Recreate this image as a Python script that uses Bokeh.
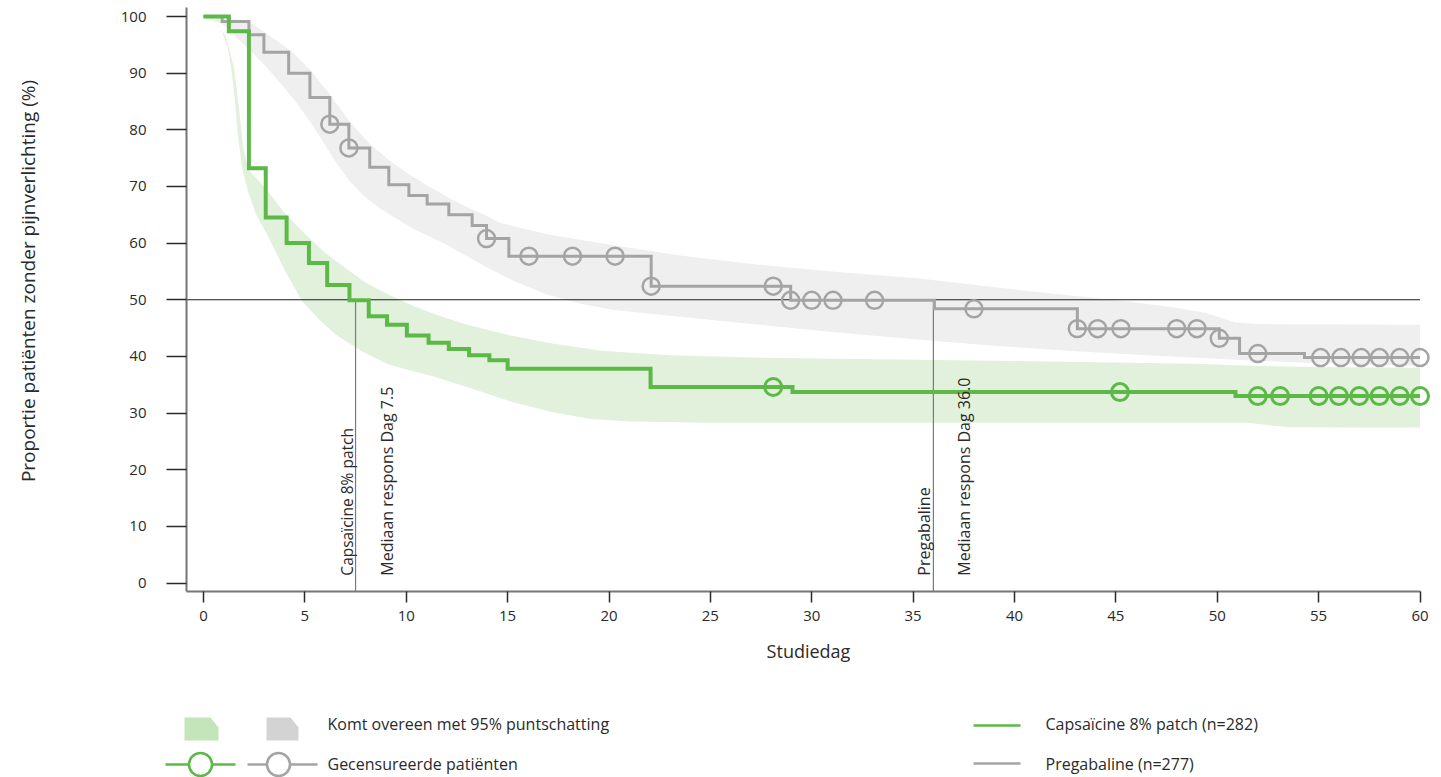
import numpy as np
from bokeh.plotting import figure
from bokeh.models import Range1d, FixedTicker
from bokeh.layouts import row
from bokeh.embed import file_html
from bokeh.resources import INLINE
from bokeh.core.properties import value

FONT = "Open Sans"
INK = "#2a2a2a"
GREEN = "#5cb947"
GRAY = "#a4a4a4"
GREEN_BAND = "#e1f1dc"
GRAY_BAND = "#efefef"
GREEN_SWATCH = "#c4e5b9"
GRAY_SWATCH = "#d3d3d3"

# ---------------- data ----------------
# Kaplan-Meier estimate, capsaicin 8% patch (event day, % without pain relief)
caps_days = [0, 1.25, 2.24, 3.07, 4.1, 5.2, 6.1, 7.2, 8.15, 9.05, 10.03, 11.1,
             12.1, 13.1, 14.1, 15.0, 22.05, 29.05, 50.9]
caps_pct = [100, 97.4, 73.2, 64.5, 60.0, 56.5, 52.6, 49.9, 47.1, 45.6, 43.7, 42.4,
            41.3, 40.2, 39.3, 37.8, 34.6, 33.7, 33.0]
caps_censored_days = [28.1, 45.2, 52.0, 53.1, 55.0, 56.0, 57.0, 58.0, 59.0, 60.0]

# Kaplan-Meier estimate, pregabalin
preg_days = [0, 0.92, 2.24, 2.98, 4.2, 5.25, 6.23, 7.17, 8.2, 9.14, 10.13, 11.03,
             12.1, 13.25, 13.96, 15.06, 22.08, 28.96, 36.05, 43.1, 50.1, 51.1, 54.3]
preg_pct = [100, 99.1, 96.8, 93.7, 90.0, 85.7, 81.0, 76.8, 73.4, 70.3, 68.4, 66.9,
            65.0, 63.1, 60.8, 57.7, 52.4, 49.9, 48.4, 44.9, 43.2, 40.5, 39.8]
preg_censored_days = [6.23, 7.17, 13.96, 16.05, 18.2, 20.3, 22.08, 28.1, 28.96, 30.0,
                      31.05, 33.1, 38.0, 43.1, 44.1, 45.25, 48.0, 49.0, 50.1, 52.0,
                      55.1, 56.1, 57.1, 58.0, 59.0, 60.0]

# 95% confidence bands (upper and lower limits)
caps_upper_days = [0, 0.6, 1.1, 1.5, 1.75, 1.95, 2.2, 2.6, 3.06, 4.0, 5.03, 6.0, 7.0,
                   8.0, 9.14, 10.3, 11.45, 13, 15, 17, 19.6, 23, 27, 31, 35.2, 40,
                   45.6, 49, 52, 56, 60]
caps_upper_pct = [100, 99, 96.5, 91, 84, 77, 73, 71.5, 69.7, 65.3, 61.5, 58.3, 55.6,
                  53.0, 50.9, 49.0, 47.4, 45.6, 43.8, 42.4, 41.0, 40.2, 39.8, 39.6,
                  39.4, 39.2, 38.9, 38.7, 38.3, 38.1, 38.0]
caps_lower_days = [0, 0.5, 0.9, 1.2, 1.4, 1.55, 1.7, 1.9, 2.2, 2.6, 3.14, 4.0, 4.87,
                   5.7, 6.5, 7.8, 9.1, 10.2, 11.4, 13, 15, 17, 19, 21, 25, 30, 40,
                   51.5, 53.5, 60]
caps_lower_pct = [100, 99.3, 97.5, 94.5, 90, 85, 79, 73.3, 69, 65, 61.5, 55.3, 49.7,
                  46.5, 43.9, 40.9, 38.6, 37.5, 36.4, 34.6, 32.2, 30.3, 29.0, 28.5,
                  28.3, 28.3, 28.3, 28.3, 27.5, 27.4]

preg_upper_days = [0, 0.92, 2.16, 3.14, 4.29, 5.28, 6.26, 7.2, 8.2, 9.2, 10.2, 11.2,
                   12.2, 13.2, 14.0, 14.6, 15.5, 17, 20.2, 23.5, 27.4, 31, 35.2, 40,
                   45.6, 48, 49.5, 50.9, 52, 60]
preg_upper_pct = [100, 99.6, 99.3, 96.9, 94.0, 90.5, 86.1, 81.5, 77.5, 74.5, 72.0,
                  69.8, 67.8, 66.0, 64.8, 63.6, 62.8, 61.5, 59.6, 57.8, 56.2, 55.0,
                  53.8, 51.8, 49.7, 48.6, 47.6, 46.0, 45.7, 45.6]
preg_lower_days = [0, 1.0, 2.16, 3.0, 3.8, 4.54, 5.44, 6.5, 7.2, 7.83, 8.73, 10.37,
                   12.0, 13.67, 15.3, 16.96, 18.6, 20.24, 23.5, 27.4, 31, 35.2, 39,
                   43, 47, 50.9, 55, 60]
preg_lower_pct = [100, 98.5, 94.5, 91.5, 88.2, 85.0, 80.5, 74.4, 71.0, 68.6, 66.0,
                  62.5, 59.7, 56.3, 53.3, 50.9, 49.3, 48.2, 47.0, 45.6, 44.3, 43.0,
                  41.9, 40.9, 40.1, 39.4, 38.8, 38.3]

median_caps = 7.5
median_preg = 36.0
median_level = 50
last_day = 60

x_ticks = list(range(0, 61, 5))
y_ticks = list(range(0, 101, 10))

# ---------------- geometry ----------------
PX_PER_DAY = 20.275
PX_PER_PCT = 5.665
TITLE_STRIP = 60          # width of the strip that carries the y-axis title
X0 = -17 / PX_PER_DAY
X1 = X0 + 1244 / PX_PER_DAY
Y0 = -8.5 / PX_PER_PCT
Y1 = Y0 + 584 / PX_PER_PCT


def km_value(days, pct, t):
    i = np.searchsorted(np.asarray(days), t, side="right") - 1
    return float(np.asarray(pct)[i])


def band_polygon(ud, up, ld, lp):
    return list(ud) + list(ld)[::-1], list(up) + list(lp)[::-1]


def bare(fig):
    fig.outline_line_color = None
    fig.grid.visible = False
    fig.background_fill_color = "white"
    fig.border_fill_color = "white"


# ---------------- y-axis title strip ----------------
t = figure(width=TITLE_STRIP, height=680, output_backend="svg", toolbar_location=None,
           x_range=Range1d(0, TITLE_STRIP), y_range=Range1d(Y0, Y1),
           min_border_left=0, min_border_right=0, min_border_top=7, min_border_bottom=89,
           x_axis_location=None, y_axis_location=None)
bare(t)
t.text([27], [(582.5 - 280.5) / PX_PER_PCT], text=["Proportie patiënten zonder pijnverlichting (%)"],
       angle=np.pi / 2, text_font=value(FONT), text_font_size="19px", text_color=INK,
       text_align="center", text_baseline="middle")

# ---------------- main plot ----------------
p = figure(width=1441 - TITLE_STRIP, height=680, output_backend="svg", toolbar_location=None,
           x_range=Range1d(X0, X1), y_range=Range1d(Y0, Y1),
           min_border_left=186 - TITLE_STRIP, min_border_right=11, min_border_top=7,
           min_border_bottom=89)
bare(p)

for ax in (p.xaxis, p.yaxis):
    ax.axis_line_color = "#767676"
    ax.axis_line_width = 2
    ax.major_tick_line_color = "#2a2a2a"
    ax.major_tick_line_width = 1.5
    ax.major_tick_in = 0
    ax.minor_tick_line_color = None
    ax.major_label_text_font = FONT
    ax.major_label_text_font_size = "15px"
    ax.major_label_text_color = INK

p.xaxis.ticker = FixedTicker(ticks=x_ticks)
p.xaxis.bounds = (X0, last_day)
p.xaxis.major_tick_out = 11
p.xaxis.major_label_standoff = 8
p.xaxis.axis_label = "Studiedag"
p.xaxis.axis_label_text_font = FONT
p.xaxis.axis_label_text_font_size = "18px"
p.xaxis.axis_label_text_font_style = "normal"
p.xaxis.axis_label_text_color = INK
p.xaxis.axis_label_standoff = 15

p.yaxis.ticker = FixedTicker(ticks=y_ticks)
p.yaxis.major_tick_out = 20
p.yaxis.major_label_standoff = 20

# confidence bands
gx, gy = band_polygon(preg_upper_days, preg_upper_pct, preg_lower_days, preg_lower_pct)
p.patch(gx, gy, fill_color=GRAY_BAND, line_color=None)
cx, cy = band_polygon(caps_upper_days, caps_upper_pct, caps_lower_days, caps_lower_pct)
p.patch(cx, cy, fill_color=GREEN_BAND, line_color=None)

# 50% reference line and median markers
p.line([X0, last_day], [median_level, median_level], line_color="#1e1e1e", line_width=1.2)
p.segment(x0=[median_caps, median_preg], y0=[median_level, median_level],
          x1=[median_caps, median_preg], y1=[Y0, Y0], line_color="#7a7a7a", line_width=1.2)

# step curves
p.step(preg_days + [last_day], preg_pct + [preg_pct[-1]], mode="after",
       line_color=GRAY, line_width=3, line_join="miter")
p.step(caps_days + [last_day], caps_pct + [caps_pct[-1]], mode="after",
       line_color=GREEN, line_width=4, line_join="miter")

# censored patients
p.scatter(preg_censored_days, [km_value(preg_days, preg_pct, d) for d in preg_censored_days],
          marker="circle", size=17, fill_color=None, line_color=GRAY, line_width=2.5)
p.scatter(caps_censored_days, [km_value(caps_days, caps_pct, d) for d in caps_censored_days],
          marker="circle", size=17, fill_color=None, line_color=GREEN, line_width=3)

# median annotations
LABEL_Y = 1.3
text_kw = dict(angle=np.pi / 2, text_font=value(FONT), text_color=INK,
               text_align="left", text_baseline="alphabetic")
p.text([median_caps], [LABEL_Y], text=["Capsaïcine 8% patch"], x_offset=-9,
       text_font_size="15.5px", **text_kw)
p.text([median_caps], [LABEL_Y], text=[f"Mediaan respons Dag {median_caps:.1f}"], x_offset=31,
       text_font_size="16px", **text_kw)
p.text([median_preg], [LABEL_Y], text=["Pregabaline"], x_offset=-9,
       text_font_size="16px", **text_kw)
p.text([median_preg], [LABEL_Y], text=[f"Mediaan respons Dag {median_preg:.1f}"], x_offset=31,
       text_font_size="16px", **text_kw)

# ---------------- legend strip ----------------
q = figure(width=1441, height=97, output_backend="svg", toolbar_location=None,
           x_range=Range1d(0, 1441), y_range=Range1d(97, 0),
           min_border=0, x_axis_location=None, y_axis_location=None)
bare(q)

q.patch([184, 210, 218, 218, 184], [37, 37, 47, 60, 60], fill_color=GREEN_SWATCH, line_color=None)
q.patch([266, 290, 298, 298, 266], [37, 37, 47, 60, 60], fill_color=GRAY_SWATCH, line_color=None)
q.line([165, 235], [84, 84], line_color=GREEN, line_width=2.5)
q.scatter([200], [84], marker="circle", size=23, fill_color="white", line_color=GREEN, line_width=2.5)
q.line([247, 317], [84, 84], line_color=GRAY, line_width=2.5)
q.scatter([278], [84], marker="circle", size=23, fill_color="white", line_color=GRAY, line_width=2.5)
q.line([973, 1020], [45, 45], line_color=GREEN, line_width=2.5)
q.line([973, 1020], [83, 83], line_color=GRAY, line_width=2.5)

leg_kw = dict(text_font=value(FONT), text_font_size="16px", text_color=INK,
              text_align="left", text_baseline="middle")
q.text([327, 327], [43, 83], text=["Komt overeen met 95% puntschatting", "Gecensureerde patiënten"], **leg_kw)
q.text([1045, 1045], [43, 83], text=["Capsaïcine 8% patch (n=282)", "Pregabaline (n=277)"], **leg_kw)

open("out.html", "w").write(file_html([row(t, p, spacing=0), q], INLINE))
